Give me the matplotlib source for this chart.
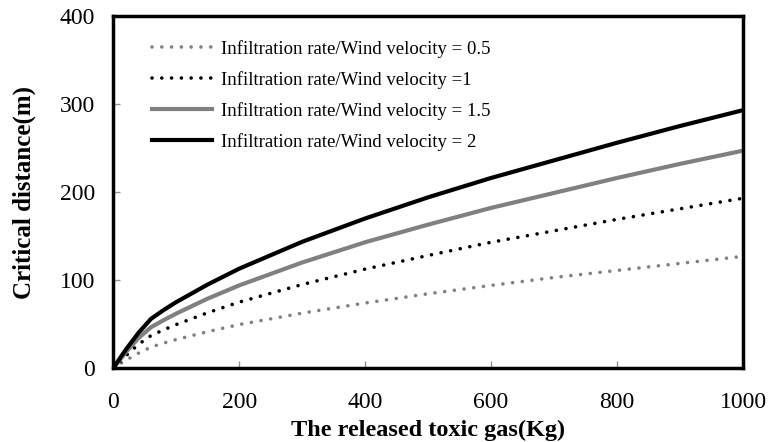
import numpy as np
import matplotlib
matplotlib.use("Agg")
import matplotlib.pyplot as plt

plt.rcParams['font.family'] = ['Liberation Serif', 'DejaVu Serif']

# released gas mass (kg) and critical distance (m)
gas = [0, 20, 40, 60, 80, 100, 150, 200, 300, 400, 500, 600, 700, 800, 900, 1000]
ratio_05 = [0, 9, 17, 24, 28.5, 32.5, 41.5, 49.5, 62.5, 74, 84.5, 94, 103, 111, 119, 127]
ratio_1 = [0, 14, 27, 37, 43.5, 49.5, 63, 75, 95, 112.5, 128, 143, 156, 169, 181, 193]
ratio_15 = [0, 18, 34, 46.5, 54.5, 62, 79, 94, 120, 143, 163, 182, 199, 216, 232, 247]
ratio_2 = [0, 21, 40, 56, 66, 75, 95, 113, 143.5, 170, 194, 216, 236, 256, 275, 293]

labels = ["Infiltration rate/Wind velocity = 0.5",
          "Infiltration rate/Wind velocity =1",
          "Infiltration rate/Wind velocity = 1.5",
          "Infiltration rate/Wind velocity = 2"]

fig = plt.figure(figsize=(7.7, 4.42), dpi=100)
ax = fig.add_axes([0.147, 0.167, 0.818, 0.797])

dots = (0, (0.01, 2.7))
ax.plot(gas, ratio_05, color='#808080', lw=2.6, ls=dots, dash_capstyle='round', label=labels[0])
ax.plot(gas, ratio_1, color='black', lw=2.6, ls=dots, dash_capstyle='round', label=labels[1])
ax.plot(gas, ratio_15, color='#808080', lw=3, label=labels[2])
ax.plot(gas, ratio_2, color='black', lw=3, label=labels[3])

ax.set_xlim(0, 1000)
ax.set_ylim(0, 400)
ax.set_xticks(np.arange(0, 1001, 200))
ax.set_yticks(np.arange(0, 401, 100))
ax.tick_params(direction='in', length=5, width=1, color='#909090', labelsize=17)
ax.tick_params(axis='x', pad=17)
ax.tick_params(axis='y', pad=13)
for s in ax.spines.values():
    s.set_linewidth(2.5)

ax.set_xlabel("The released toxic gas(Kg)", fontsize=17.5, fontweight='bold', labelpad=5)
ax.set_ylabel("Critical distance(m)", fontsize=18, fontweight='bold', labelpad=17)

leg = ax.legend(loc='upper left', frameon=False, fontsize=13.5, handlelength=3.2,
                handletextpad=0.45, labelspacing=0.7, bbox_to_anchor=(0.035, 0.98))

fig.savefig("out.png", dpi=100)
